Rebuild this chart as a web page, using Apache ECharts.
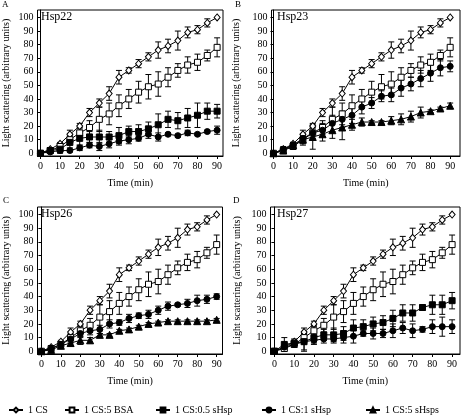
<!DOCTYPE html>
<html><head><meta charset="utf-8">
<script src="https://cdn.jsdelivr.net/npm/echarts@6/dist/echarts.min.js"></script>
<style>html,body{margin:0;padding:0;background:#fff}#c{width:462px;height:417px}</style>
</head><body><div id="c"></div>
<script>
// ---- data ----
const times = [0,5,10,15,20,25,30,35,40,45,50,55,60,65,70,75,80,85,90];
const xTicks = [0,10,20,30,40,50,60,70,80,90];
const yTicks = [0,10,20,30,40,50,60,70,80,90,100];
const seriesNames = ['1 CS','1 CS:5 BSA','1 CS:0.5 sHsp','1 CS:1 sHsp','1 CS:5 sHsps'];

const cs      = [0,3,7,14,20,30,37,44,56,61,66,71,76,79,83,89,91,96,100];
const csErr   = [0,1,1,3,2,3,3,5,5,2,3,3,6,5,7,4,3,3,0];
const bsa     = [0,2,5,10,15,19,25,29,35,40,45,49,51,56,61,65,67,72,78];
const bsaErr  = [0,1,2,3,4,5,9,8,8,7,8,9,9,7,5,6,6,4,7];

const hsp22_05    = [0,2,3,8,11,12,12,12,13,16,16,18,21,25,24,26,28,31,31];
const hsp22_05Err = [0,1,3,4,5,4,5,4,6,4,5,5,8,6,6,7,9,6,5];
const hsp22_1     = [0,1,2,2,4,6,5,7,9,10,11,14,12,14,13,15,14,16,17];
const hsp22_1Err  = [0,0,1,1,2,2,3,3,3,3,2,3,3,1,1,2,1,1,3];

const hsp23_1     = [0,3,6,11,15,17,22,25,28,34,37,42,43,48,51,55,59,63,64];
const hsp23_1Err  = [0,2,2,3,5,5,6,6,6,5,4,4,5,6,5,6,6,6,4];
const hsp23_5     = [0,2,6,10,12,14,17,19,21,23,23,23,24,25,27,30,31,33,35];
const hsp23_5Err  = [0,2,2,4,9,5,6,9,4,3,1,1,3,4,4,4,1,1,2];

const hsp26_1     = [0,2,5,9,13,15,16,20,21,24,26,27,30,33,34,35,37,38,40];
const hsp26_1Err  = [0,1,2,3,3,3,3,3,2,3,2,3,3,3,1,3,4,3,2];
const hsp26_5     = [0,1,4,6,8,8,12,12,15,16,18,20,21,22,22,22,22,22,23];
const hsp26_5Err  = [0,1,1,2,3,2,1,1,1,1,1,1,1,1,1,1,1,1,1];

const hsp27_05    = [0,5,6,7,10,12,12,13,17,18,20,21,24,28,28,32,34,34,37];
const hsp27_05Err = [0,5,3,7,4,4,5,5,6,5,5,5,6,6,6,2,7,7,6];
const hsp27_1     = [0,3,5,7,8,9,9,10,11,13,13,13,15,17,15,16,18,18,18];
const hsp27_1Err  = [0,2,2,6,3,3,3,4,5,2,4,3,5,4,5,2,5,7,5];

const panelLabels = ['Hsp22','Hsp23','Hsp26','Hsp27'];
const panelLetters = ['A','B','C','D'];

// ---- layout / styles ----
const FONT = 'Liberation Serif';
const styles = {
  '1 CS':          {symbol:'diamond',  size:[6,7], fill:'#fff'},
  '1 CS:5 BSA':    {symbol:'rect',     size:6,     fill:'#fff'},
  '1 CS:0.5 sHsp': {symbol:'rect',     size:6,     fill:'#000'},
  '1 CS:1 sHsp':   {symbol:'circle',   size:6,     fill:'#000'},
  '1 CS:5 sHsps':  {symbol:'triangle', size:7,     fill:'#000'}
};
const panels = [
  {grid:{left:37.5,top:10,width:185.5,height:146}, xmin:-1.5, xmax:93, nameX:6, lbl:[41,11], let:[2,0],
   data:[['1 CS',cs,csErr],['1 CS:5 BSA',bsa,bsaErr],['1 CS:0.5 sHsp',hsp22_05,hsp22_05Err],['1 CS:1 sHsp',hsp22_1,hsp22_1Err]]},
  {grid:{left:271.5,top:10,width:188.5,height:146}, xmin:-1, xmax:95, nameX:236, lbl:[277,11], let:[235,0],
   data:[['1 CS',cs,csErr],['1 CS:5 BSA',bsa,bsaErr],['1 CS:1 sHsp',hsp23_1,hsp23_1Err],['1 CS:5 sHsps',hsp23_5,hsp23_5Err]]},
  {grid:{left:35.5,top:207,width:187,height:147}, xmin:-2, xmax:93, nameX:4, lbl:[41,208], let:[3,196],
   data:[['1 CS',cs,csErr],['1 CS:5 BSA',bsa,bsaErr],['1 CS:1 sHsp',hsp26_1,hsp26_1Err],['1 CS:5 sHsps',hsp26_5,hsp26_5Err]]},
  {grid:{left:270.5,top:207,width:189.5,height:147}, xmin:-2, xmax:94, nameX:237, lbl:[277,208], let:[233,196],
   data:[['1 CS',cs,csErr],['1 CS:5 BSA',bsa,bsaErr],['1 CS:0.5 sHsp',hsp27_05,hsp27_05Err],['1 CS:1 sHsp',hsp27_1,hsp27_1Err]]}
];

const grids=[], xAxes=[], yAxes=[], series=[], graphics=[];
panels.forEach((p,i)=>{
  grids.push(Object.assign({show:true, borderColor:'#000', borderWidth:1, backgroundColor:'transparent'}, p.grid));
  xAxes.push({type:'value', gridIndex:i, min:p.xmin, max:p.xmax,
    name:'Time (min)', nameLocation:'middle', nameGap:22,
    nameTextStyle:{fontFamily:FONT, fontSize:10, color:'#000'},
    axisLine:{onZero:false, lineStyle:{color:'#000', width:1}},
    axisTick:{show:true, length:3, customValues:xTicks, lineStyle:{color:'#000'}},
    axisLabel:{customValues:xTicks, fontFamily:FONT, fontSize:10, color:'#000', margin:5},
    splitLine:{show:false}});
  yAxes.push({type:'value', gridIndex:i, min:-2, max:105.5,
    name:'Light scattering (arbitrary units)', nameLocation:'middle', nameGap:p.grid.left-p.nameX-5,
    nameTextStyle:{fontFamily:FONT, fontSize:10, color:'#000'},
    axisLine:{lineStyle:{color:'#000', width:1}},
    axisTick:{show:true, length:3, customValues:yTicks, lineStyle:{color:'#000'}},
    axisLabel:{customValues:yTicks, fontFamily:FONT, fontSize:10, color:'#000', margin:4},
    splitLine:{show:false}});
  p.data.forEach(([name, vals, errs])=>{
    const st = styles[name];
    const pts = times.map((t,k)=>[t, vals[k], errs[k]]);
    series.push({type:'custom', name:name+' error', xAxisIndex:i, yAxisIndex:i, data:pts, z:2, silent:true,
      encode:{x:0, y:1},
      renderItem:(params, api)=>{
        const x=api.value(0), y=api.value(1), e=api.value(2);
        if(!e) return null;
        const top=api.coord([x,y+e]), bot=api.coord([x,y-e]);
        const w=3;
        return {type:'group', children:[
          {type:'line', shape:{x1:top[0],y1:top[1],x2:bot[0],y2:bot[1]}, style:{stroke:'#000',lineWidth:1}},
          {type:'line', shape:{x1:top[0]-w,y1:top[1],x2:top[0]+w,y2:top[1]}, style:{stroke:'#000',lineWidth:1}},
          {type:'line', shape:{x1:bot[0]-w,y1:bot[1],x2:bot[0]+w,y2:bot[1]}, style:{stroke:'#000',lineWidth:1}}
        ]};
      }});
    series.push({type:'line', name:name, xAxisIndex:i, yAxisIndex:i, z:3,
      data:times.map((t,k)=>[t, vals[k]]),
      symbol:st.symbol, symbolSize:st.size, showAllSymbol:true,
      lineStyle:{color:'#000', width:1},
      itemStyle:{color:st.fill, borderColor:'#000', borderWidth:1, opacity:1},
      emphasis:{disabled:true}, animation:false});
  });
  graphics.push({type:'text', left:p.lbl[0], top:p.lbl[1], style:{text:panelLabels[i], font:'12px "Liberation Serif"', fill:'#000'}});
  graphics.push({type:'text', left:p.let[0], top:p.let[1], style:{text:panelLetters[i], font:'9px "Liberation Serif"', fill:'#000'}});
});

const legendX = [3, 59, 150, 256, 360];
const legends = seriesNames.map((n,k)=>({
  data:[n], left:legendX[k], top:400, itemWidth:14, itemHeight:6, itemGap:4,
  textStyle:{fontFamily:FONT, fontSize:10, color:'#000'}, selectedMode:false
}));

const chart = echarts.init(document.getElementById('c'), null, {renderer:'canvas'});
chart.setOption({
  animation:false,
  grid:grids, xAxis:xAxes, yAxis:yAxes, series:series, legend:legends, graphic:graphics
});
</script></body></html>
